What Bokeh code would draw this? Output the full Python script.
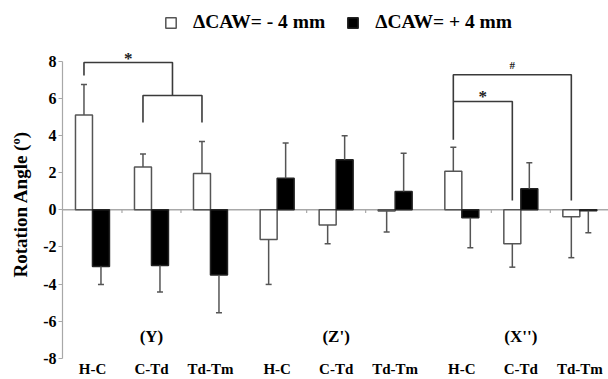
from bokeh.plotting import figure
from bokeh.models import Range1d, FixedTicker, Span, Legend, LegendItem
from bokeh.core.properties import value
from bokeh.embed import file_html
from bokeh.resources import INLINE

# ---------------- data ----------------
groups = ["(Y)", "(Z')", "(X'')"]
segments = ["H-C", "C-Td", "Td-Tm"]
series_labels = ["\u0394CAW= - 4 mm", "\u0394CAW= + 4 mm"]
neg_mean = [5.10, 2.30, 1.95, -1.60, -0.82, -0.07, 2.08, -1.83, -0.37]
neg_sd = [1.65, 0.70, 1.73, 2.42, 1.01, 1.13, 1.29, 1.26, 2.21]
pos_mean = [-3.05, -3.00, -3.51, 1.70, 2.69, 0.98, -0.43, 1.13, -0.05]
pos_sd = [0.98, 1.43, 2.03, 1.89, 1.29, 2.07, 1.62, 1.40, 1.19]
y_ticks = [-8, -6, -4, -2, 0, 2, 4, 6, 8]
y_tick_labels = ["-8", "-6", "-4", "-2", "0", "2", "4", "6", "8"]
y_label = "Rotation Angle (\u00ba)"
# significance brackets (levels in degrees)
sig_Y = {"outer_top": 7.93, "outer_left_bottom": 7.23, "inner_top": 6.15,
         "inner_bottom": 4.70, "label": "*"}
sig_X_star = {"top": 5.83, "right_bottom": 0.50, "label": "*"}
sig_X_hash = {"top": 7.27, "left_bottom": 3.77, "right_bottom": 0.50, "label": "#"}

# ---------------- layout helpers ----------------
GAP = 0.13
BW = 0.288
pos = [g * (3 + GAP) + c for g in range(len(groups)) for c in range(len(segments))]
cat_labels = [s for g in groups for s in segments]
white_x = [x - BW / 2 for x in pos]
black_x = [x + BW / 2 for x in pos]

FONT = "Liberation Serif"
GREY = "#555555"
AXIS_GREY = "#a8a8a8"

p = figure(width=608, height=379, output_backend="svg", toolbar_location=None,
           x_range=Range1d(-0.508, 8.746), y_range=Range1d(-9.14, 11.27),
           x_axis_location=None, min_border_left=62, min_border_right=0,
           min_border_top=0, min_border_bottom=0)
p.outline_line_color = None
p.grid.visible = False
p.background_fill_color = "white"

# y axis
ax = p.yaxis[0]
ax.ticker = FixedTicker(ticks=y_ticks)
ax.major_label_overrides = {t: s for t, s in zip(y_ticks, y_tick_labels)}
ax.bounds = (-8, 8)
ax.axis_line_color = AXIS_GREY
ax.axis_line_width = 1.2
ax.major_tick_line_color = AXIS_GREY
ax.major_tick_out = 4
ax.major_tick_in = 0
ax.minor_tick_line_color = None
ax.major_label_text_font = FONT
ax.major_label_text_font_style = "bold"
ax.major_label_text_font_size = "16px"
ax.major_label_text_color = "black"
ax.major_label_standoff = 2
# trailing no-break spaces centre the label on the -8..8 axis span
ax.axis_label = y_label + "\u00a0" * 6
ax.axis_label_text_font = FONT
ax.axis_label_text_font_style = "bold"
ax.axis_label_text_font_size = "19px"
ax.axis_label_text_color = "black"
ax.axis_label_standoff = 9

# zero line
p.add_layout(Span(location=0, dimension="width", line_color=AXIS_GREY,
                  line_width=1.5, level="underlay"))
# small ticks between categories within groups
tick_x = [(pos[i] + pos[i + 1]) / 2 for i in range(len(pos) - 1)
          if (i % len(segments)) != len(segments) - 1]
p.segment(x0=tick_x, y0=[0] * len(tick_x), x1=tick_x, y1=[-0.17] * len(tick_x),
          line_color=AXIS_GREY, line_width=1.2)

# bars
r_white = p.vbar(x=white_x, top=neg_mean, bottom=0, width=BW, fill_color="white",
                 line_color=GREY, line_width=1.5)
r_black = p.vbar(x=black_x, top=pos_mean, bottom=0, width=BW, fill_color="black",
                 line_color="#222222", line_width=1.5)

# error bars (one-sided, away from zero)
def err_end(m, s):
    return m + s if m >= 0 else m - s

for xs, means, sds in ((white_x, neg_mean, neg_sd), (black_x, pos_mean, pos_sd)):
    ends = [err_end(m, s) for m, s in zip(means, sds)]
    p.segment(x0=xs, y0=means, x1=xs, y1=ends, line_color=GREY, line_width=1.5)
    p.scatter(x=xs, y=ends, marker="dash", size=6, line_color=GREY, line_width=1.5)

# significance brackets
BR = "#3a3a3a"
a, b, c = white_x[0], white_x[1], white_x[2]
mid_bc = (b + c) / 2
p.multi_line(
    xs=[[a, a, mid_bc, mid_bc], [b, b, c, c]],
    ys=[[sig_Y["outer_left_bottom"], sig_Y["outer_top"], sig_Y["outer_top"], sig_Y["inner_top"]],
        [sig_Y["inner_bottom"], sig_Y["inner_top"], sig_Y["inner_top"], sig_Y["inner_bottom"]]],
    line_color=BR, line_width=1.6)
p.text(x=[(a + mid_bc) / 2], y=[sig_Y["outer_top"] - 0.3], text=[sig_Y["label"]],
       text_font=value(FONT), text_font_style="bold", text_font_size="17px",
       text_align="center", text_baseline="bottom", text_color="#222222")

h, cx, tx = white_x[6], white_x[7], white_x[8]
p.multi_line(
    xs=[[h, h, tx, tx], [h, cx, cx]],
    ys=[[sig_X_hash["left_bottom"], sig_X_hash["top"], sig_X_hash["top"], sig_X_hash["right_bottom"]],
        [sig_X_star["top"], sig_X_star["top"], sig_X_star["right_bottom"]]],
    line_color=BR, line_width=1.6)
p.text(x=[(h + cx) / 2], y=[sig_X_star["top"] - 0.25], text=[sig_X_star["label"]],
       text_font=value(FONT), text_font_style="bold", text_font_size="17px",
       text_align="center", text_baseline="bottom", text_color="#222222")
p.text(x=[(h + tx) / 2], y=[sig_X_hash["top"] + 0.2], text=[sig_X_hash["label"]],
       text_font=value(FONT), text_font_style="bold", text_font_size="11px",
       text_align="center", text_baseline="bottom", text_color="#222222")

# group labels and category labels
group_x = [pos[g * len(segments) + 1] for g in range(len(groups))]
p.text(x=group_x, y=[-6.82] * len(groups), text=groups, text_font=value(FONT),
       text_font_style="bold", text_font_size="17px", text_align="center",
       text_baseline="middle", text_color="black")
p.text(x=pos, y=[-8.58] * len(pos), text=cat_labels, text_font=value(FONT),
       text_font_style="bold", text_font_size="15px", text_align="center",
       text_baseline="middle", text_color="black")

# legend
legend = Legend(items=[LegendItem(label=series_labels[0], renderers=[r_white]),
                       LegendItem(label=series_labels[1], renderers=[r_black])],
                orientation="horizontal", location=(102, 346),
                glyph_width=13, glyph_height=13, label_standoff=16, spacing=21,
                padding=0, margin=0, border_line_color=None,
                background_fill_alpha=0,
                label_text_font=FONT, label_text_font_style="bold",
                label_text_font_size="19.5px", label_text_color="black")
p.add_layout(legend)

open("out.html", "w").write(file_html(p, INLINE))
